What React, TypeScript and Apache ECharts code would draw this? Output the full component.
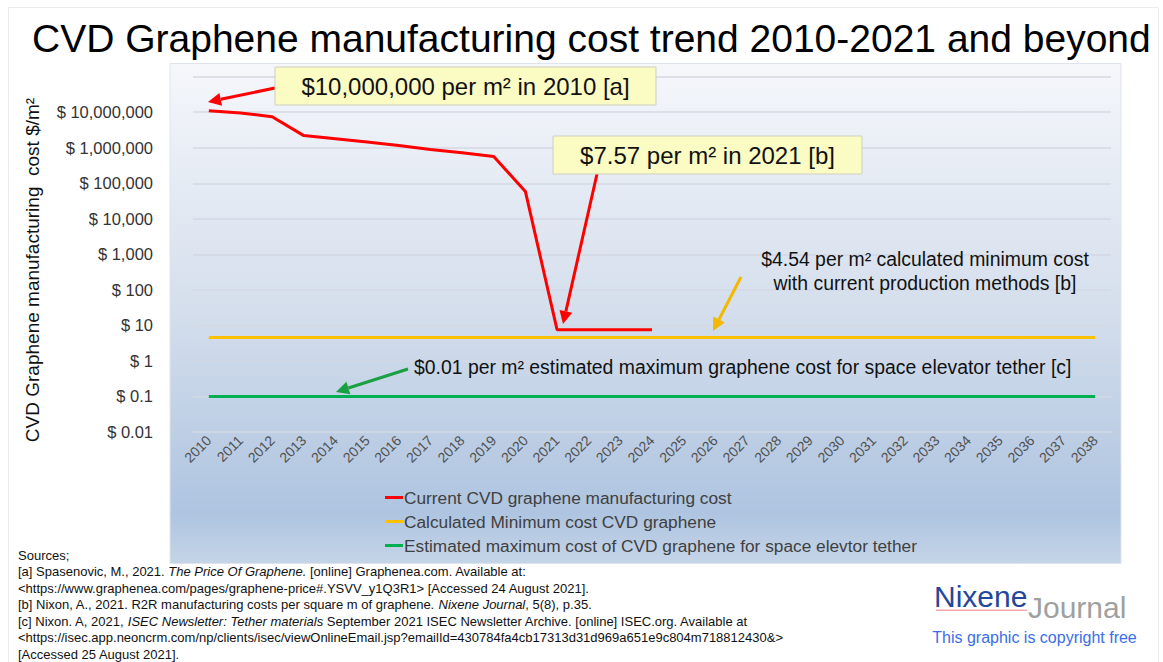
import React, { useEffect, useRef } from "react";
import * as echarts from "echarts";

const years = [
  "2010","2011","2012","2013","2014","2015","2016","2017","2018","2019",
  "2020","2021","2022","2023","2024","2025","2026","2027","2028","2029",
  "2030","2031","2032","2033","2034","2035","2036","2037","2038",
];
const currentCost = [
  1.1e7, 9.5e6, 7.5e6, 2.2e6, 1.8e6, 1.45e6, 1.15e6, 9.0e5, 7.2e5, 5.7e5,
  5.9e4, 7.57, 7.57, 7.57, 7.57,
];
const minCost = 4.54;
const tetherCost = 0.1;
const seriesNames = [
  "Current CVD graphene manufacturing cost",
  "Calculated Minimum cost CVD graphene",
  "Estimated maximum cost of CVD graphene for space elevtor tether",
];
const seriesColors = ["#ff0000", "#ffc000", "#00b050"];

const FONT = "'Liberation Sans', Arial, Helvetica, sans-serif";

function fmtY(v: any): string {
  const n = Number(Number(v).toPrecision(6));
  if (n >= 1e8) return "";
  return "$ " + n.toLocaleString("en-US", { maximumFractionDigits: 2 });
}

function arrow(x1: number, y1: number, x2: number, y2: number, color: string, w = 3, head = 13, hw = 6.5) {
  const dx = x2 - x1, dy = y2 - y1;
  const L = Math.hypot(dx, dy);
  const ux = dx / L, uy = dy / L;
  const bx = x2 - ux * head, by = y2 - uy * head;
  const px = -uy, py = ux;
  return [
    { type: "line", silent: true, z: 50, shape: { x1, y1, x2: bx, y2: by }, style: { stroke: color, lineWidth: w } },
    {
      type: "polygon", silent: true, z: 50,
      shape: { points: [[x2, y2], [bx + px * hw, by + py * hw], [bx - px * hw, by - py * hw]] },
      style: { fill: color },
    },
  ];
}

const italic = { fontStyle: "italic", fontSize: 13, fontFamily: FONT, fill: "#111" };
const normal = { fontSize: 13, fontFamily: FONT, fill: "#111" };

export default function App() {
  const ref = useRef<HTMLDivElement>(null);
  useEffect(() => {
    if (!ref.current) return;
    const chart = echarts.init(ref.current, null, { renderer: "svg" });
    const red = years.map((_, i) => (i < currentCost.length ? currentCost[i] : null));
    const yellow = years.map(() => minCost);
    const green = years.map(() => tetherCost);

    const sourcesText = [
      "{n|Sources;}",
      "{n|[a] Spasenovic, M., 2021. }{i|The Price Of Graphene.}{n| [online] Graphenea.com. Available at:}",
      "{n|<https://www.graphenea.com/pages/graphene-price#.YSVV_y1Q3R1> [Accessed 24 August 2021].}",
      "{n|[b] Nixon, A., 2021. R2R manufacturing costs per square m of graphene. }{i|Nixene Journal}{n|, 5(8), p.35.}",
      "{n|[c] Nixon. A, 2021, }{i|ISEC Newsletter: Tether materials}{n| September 2021 ISEC Newsletter Archive. [online] ISEC.org. Available at}",
      "{n|<https://isec.app.neoncrm.com/np/clients/isec/viewOnlineEmail.jsp?emailId=430784fa4cb17313d31d969a651e9c804m718812430&>}",
      "{n|[Accessed 25 August 2021].}",
    ].join("\n");

    const option: any = {
      animation: false,
      backgroundColor: "#ffffff",
      title: {
        text: "CVD Graphene manufacturing cost trend 2010-2021 and beyond",
        left: 27,
        top: 14,
        textStyle: { fontSize: 39, fontWeight: "normal", color: "#000", fontFamily: FONT },
      },
      grid: { left: 193, right: 52, top: 76.7, bottom: 230, containLabel: false },
      legend: {
        orient: "vertical",
        left: 380,
        top: 484,
        itemGap: 7,
        itemWidth: 18,
        itemHeight: 3,
        icon: "rect",
        data: seriesNames,
        textStyle: { fontSize: 17.3, color: "#404040", fontFamily: FONT, padding: [0, 0, 0, -4] },
      },
      xAxis: {
        type: "category",
        data: years,
        boundaryGap: true,
        axisLine: { show: false },
        axisTick: { show: false },
        axisLabel: { rotate: 45, fontSize: 14, color: "#505050", margin: 6, interval: 0, fontFamily: FONT },
        splitLine: { show: false },
      },
      yAxis: {
        type: "log",
        logBase: 10,
        min: 0.01,
        max: 1e8,
        interval: 1,
        axisLine: { show: false },
        axisTick: { show: false },
        axisLabel: {
          formatter: fmtY, fontSize: 16.5, color: "#333", margin: 40, fontFamily: FONT,
          showMinLabel: true, showMaxLabel: true, hideOverlap: false,
        },
        splitLine: { show: true, lineStyle: { color: "#d3d9e3", width: 1.5 } },
      },
      series: [
        { name: seriesNames[0], type: "line", data: red, symbol: "none", lineStyle: { color: seriesColors[0], width: 3 }, itemStyle: { color: seriesColors[0] }, z: 4 },
        { name: seriesNames[1], type: "line", data: yellow, symbol: "none", lineStyle: { color: seriesColors[1], width: 3 }, itemStyle: { color: seriesColors[1] }, z: 3 },
        { name: seriesNames[2], type: "line", data: green, symbol: "none", lineStyle: { color: seriesColors[2], width: 3 }, itemStyle: { color: seriesColors[2] }, z: 3 },
      ],
      graphic: [
        {
          type: "rect", silent: true, z: -100,
          shape: { x: 8.5, y: 7.5, width: 1150, height: 660 },
          style: { fill: "none", stroke: "#ececec", lineWidth: 1 },
        },
        {
          type: "rect", silent: true, z: -90,
          shape: { x: 170, y: 63.5, width: 951, height: 500 },
          style: {
            fill: new echarts.graphic.LinearGradient(0, 0, 0, 1, [
              { offset: 0, color: "#f5f7fb" },
              { offset: 0.5, color: "#d4deec" },
              { offset: 0.9, color: "#aec4e0" },
              { offset: 1, color: "#c5d5e8" },
            ]),
            stroke: "#dfe4ec",
            lineWidth: 1,
          },
        },
        {
          type: "text", silent: true, z: 61, x: 32, y: 270, rotation: Math.PI / 2,
          style: {
            text: "CVD Graphene manufacturing  cost $/m²",
            fontSize: 19, fontFamily: FONT, fill: "#111", align: "center", verticalAlign: "middle",
          },
        },
        // box 1
        {
          type: "rect", silent: true, z: 60,
          shape: { x: 275, y: 67, width: 381, height: 38 },
          style: { fill: "#fbfbc4", stroke: "#cfcfbf", lineWidth: 1 },
        },
        {
          type: "text", silent: true, z: 61, x: 465.5, y: 86,
          style: { text: "$10,000,000 per m² in 2010 [a]", fontSize: 24, fontFamily: FONT, fill: "#111", align: "center", verticalAlign: "middle" },
        },
        // box 2
        {
          type: "rect", silent: true, z: 60,
          shape: { x: 553, y: 136, width: 309, height: 38 },
          style: { fill: "#fbfbc4", stroke: "#cfcfbf", lineWidth: 1 },
        },
        {
          type: "text", silent: true, z: 61, x: 707.5, y: 155,
          style: { text: "$7.57 per m² in 2021 [b]", fontSize: 24, fontFamily: FONT, fill: "#111", align: "center", verticalAlign: "middle" },
        },
        ...arrow(275, 88, 208, 102, "#ff0000"),
        ...arrow(597, 174, 563, 324, "#ff0000"),
        {
          type: "text", silent: true, z: 61, x: 925, y: 271,
          style: {
            text: "$4.54 per m² calculated minimum cost\nwith current production methods [b]",
            fontSize: 19.4, lineHeight: 24, fontFamily: FONT, fill: "#111", align: "center", verticalAlign: "middle",
          },
        },
        ...arrow(741, 277, 713, 331, "#f5b800"),
        {
          type: "text", silent: true, z: 61, x: 414, y: 367,
          style: {
            text: "$0.01 per m² estimated maximum graphene cost for space elevator tether [c]",
            fontSize: 19.4, fontFamily: FONT, fill: "#111", align: "left", verticalAlign: "middle",
          },
        },
        ...arrow(408, 369, 336, 392, "#1aa040"),
        // sources
        {
          type: "text", silent: true, z: 61, x: 18, y: 547,
          style: {
            text: sourcesText,
            fontSize: 13, lineHeight: 16.5, fontFamily: FONT, fill: "#111",
            rich: { n: { ...normal, lineHeight: 16.5 }, i: { ...italic, lineHeight: 16.5 } },
          },
        },
        // logo
        {
          type: "text", silent: true, z: 61, x: 934, y: 596,
          style: { text: "Nixene", fontSize: 30, fontFamily: FONT, fill: "#24479b", verticalAlign: "middle" },
        },
        {
          type: "rect", silent: true, z: 60,
          shape: { x: 936, y: 609.5, width: 91, height: 1.5 },
          style: { fill: "#f3a7a7" },
        },
        {
          type: "text", silent: true, z: 61, x: 1028, y: 607,
          style: { text: "Journal", fontSize: 30, fontFamily: FONT, fill: "#a0a0a0", verticalAlign: "middle" },
        },
        {
          type: "text", silent: true, z: 61, x: 1034.5, y: 637,
          style: { text: "This graphic is copyright free", fontSize: 16, fontFamily: FONT, fill: "#3a6ee6", align: "center", verticalAlign: "middle" },
        },
      ],
    };
    chart.setOption(option);
    return () => chart.dispose();
  }, []);
  return <div ref={ref} style={{ position: "fixed", left: 0, top: 0, width: 1163, height: 662 }} />;
}
